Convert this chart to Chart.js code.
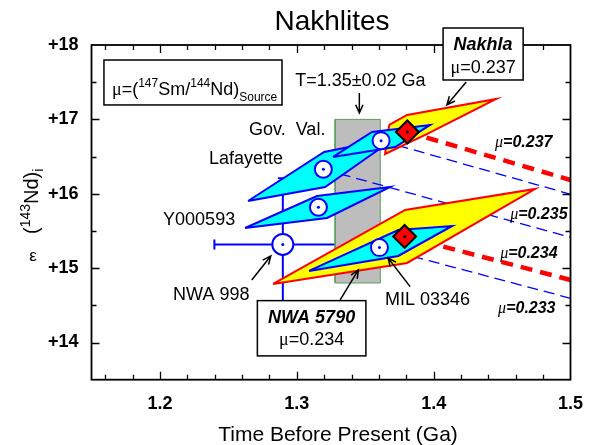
<!DOCTYPE html>
<html>
<head>
<meta charset="utf-8">
<script src="https://cdn.jsdelivr.net/npm/chart.js@4.4.1/dist/chart.umd.min.js"></script>
<style>
  html, body { margin: 0; padding: 0; background: #fff; }
  #wrap { width: 590px; height: 445px; }
</style>
</head>
<body>
<div id="wrap"><canvas id="chart" width="590" height="445"></canvas></div>
<script>
// axis ranges: age (Ga) and epsilon 143Nd
const xRange = [1.15, 1.5];
const yRange = [13.5, 18];
const xTickValues = [1.2, 1.3, 1.4, 1.5];
const yTickValues = [14, 15, 16, 17, 18];

// measured nakhlites (open circles)
const sampleNames = ["Lafayette", "Gov. Val.", "Y000593", "NWA 998", "MIL 03346"];
const sampleAge = [1.3194, 1.3616, 1.3158, 1.2898, 1.3604];
const sampleEps = [16.329, 16.714, 15.819, 15.319, 15.276];

// red diamonds
const diamondNames = ["Nakhla", "NWA 5790"];
const diamondAge = [1.3808, 1.3788];
const diamondEps = [16.831, 15.426];

// NWA 998 error bars
const nwa998AgeErr = 0.05;
const nwa998EpsErr = 0.89;

// T = 1.35 +/- 0.02 Ga band
const bandAge = [1.328, 1.361];
const bandEps = [14.8, 17.0];

// error envelopes [age, eps]
const lafayetteEnv = [[1.2644, 15.903], [1.3200, 16.562], [1.3719, 16.750], [1.3207, 16.091]];
const y000593Env = [[1.2622, 15.540], [1.3148, 15.970], [1.3682, 16.091], [1.3221, 15.675]];
const govValEnv = [[1.3265, 16.495], [1.3550, 16.831], [1.3974, 16.925], [1.3719, 16.629]];
const nakhlaEnv = [[1.3675, 16.925], [1.3806, 17.059], [1.4457, 17.274], [1.3953, 16.804], [1.3645, 16.535]];
const nwa5790Env = [[1.2827, 14.788], [1.3792, 15.782], [1.4742, 16.065], [1.3806, 15.070]];
const milEnv = [[1.3090, 14.962], [1.3741, 15.513], [1.4135, 15.567], [1.3741, 15.164]];

// source evolution lines, eps value reached at 1.5 Ga
const redLineFrom = ["Nakhla", "NWA 5790"];
const redLineEnd = [16.185, 14.841];
const blueLineFrom = ["Gov. Val.", "Lafayette", "MIL 03346"];
const blueLineEnd = [15.993, 15.415, 14.595];

// mu labels on the right
const muText = ["0.237", "0.235", "0.234", "0.233"];
const muAge = [1.4449, 1.4559, 1.4486, 1.4471];
const muEps = [16.629, 15.661, 15.137, 14.398];

// plain labels
const labelText = ["Gov.  Val.", "Lafayette", "Y000593", "NWA 998", "MIL 03346", "T=1.35\u00b10.02 Ga"];
const labelAge = [1.2651, 1.2359, 1.2023, 1.2096, 1.3645, 1.2988];
const labelEps = [16.79, 16.394, 15.581, 14.573, 14.505, 17.449];

// arrows [age, eps] from -> to
const arrowFrom = [[1.3457, 17.355], [1.4238, 17.503], [1.2671, 14.841], [1.3828, 14.751], [1.3317, 14.573]];
const arrowTo = [[1.3457, 17.086], [1.4097, 17.194], [1.2810, 15.164], [1.3667, 15.137], [1.3450, 14.976]];

const SANS = '"Liberation Sans", Arial, Helvetica, sans-serif';
const SERIF = '"Liberation Serif", "Times New Roman", serif';
const BLUE = "#0000ff", RED = "#ff0000", CYAN = "#00ffff", YELLOW = "#ffff00";

function closed(env) {
  const pts = env.map(p => ({ x: p[0], y: p[1] }));
  pts.push({ x: env[0][0], y: env[0][1] });
  return pts;
}

function envelope(env, fillColor, lineColor, order) {
  return {
    data: closed(env), showLine: true, fill: "shape", backgroundColor: fillColor,
    borderColor: lineColor, borderWidth: 2, borderJoinStyle: "miter", pointRadius: 0, order: order
  };
}

function evoLine(name, names, ages, epss, endEps, color, width, dash) {
  const i = names.indexOf(name);
  return {
    data: [{ x: ages[i], y: epss[i] }, { x: xRange[1], y: endEps }], showLine: true,
    borderColor: color, borderWidth: width, borderDash: dash, pointRadius: 0, fill: false, order: 8
  };
}

const datasets = [];

// error bars of NWA 998 (under everything)
const iNwa = sampleNames.indexOf("NWA 998");
datasets.push({
  data: [{ x: sampleAge[iNwa] - nwa998AgeErr, y: sampleEps[iNwa] }, { x: sampleAge[iNwa] + nwa998AgeErr, y: sampleEps[iNwa] }],
  showLine: true, borderColor: BLUE, borderWidth: 2, pointStyle: "line", pointRotation: 90,
  pointRadius: 5, pointBorderColor: BLUE, pointBorderWidth: 2, order: 12
});
datasets.push({
  data: [{ x: sampleAge[iNwa], y: sampleEps[iNwa] + nwa998EpsErr }, { x: sampleAge[iNwa], y: sampleEps[iNwa] - nwa998EpsErr }],
  showLine: true, borderColor: BLUE, borderWidth: 2, pointStyle: "line", pointRotation: 0,
  pointRadius: 5, pointBorderColor: BLUE, pointBorderWidth: 2, order: 12
});

// age band
datasets.push({
  data: closed([[bandAge[0], bandEps[0]], [bandAge[1], bandEps[0]], [bandAge[1], bandEps[1]], [bandAge[0], bandEps[1]]]),
  showLine: true, fill: "shape", backgroundColor: "#bdbdbd", borderColor: "#5c9e5c", borderWidth: 1,
  pointRadius: 0, order: 10
});

// dashed evolution lines
redLineFrom.forEach((n, k) => datasets.push(evoLine(n, diamondNames, diamondAge, diamondEps, redLineEnd[k], RED, 4.5, [12, 8])));
blueLineFrom.forEach((n, k) => datasets.push(evoLine(n, sampleNames, sampleAge, sampleEps, blueLineEnd[k], BLUE, 1.3, [11, 6])));

// envelopes
datasets.push(envelope(lafayetteEnv, CYAN, BLUE, 7));
datasets.push(envelope(y000593Env, CYAN, BLUE, 7));
datasets.push(envelope(nakhlaEnv, YELLOW, RED, 6));
datasets.push(envelope(nwa5790Env, YELLOW, RED, 6));
datasets.push(envelope(govValEnv, CYAN, BLUE, 5));
datasets.push(envelope(milEnv, CYAN, BLUE, 5));

// points
datasets.push({
  data: diamondAge.map((a, i) => ({ x: a, y: diamondEps[i] })), pointStyle: "rectRot", pointRadius: 11.5,
  pointBackgroundColor: RED, pointBorderColor: "#000", pointBorderWidth: 2, order: 3
});
datasets.push({
  data: diamondAge.map((a, i) => ({ x: a, y: diamondEps[i] })), pointRadius: 1.5,
  pointBackgroundColor: "#000", pointBorderWidth: 0, order: 2
});
datasets.push({
  data: sampleAge.map((a, i) => ({ x: a, y: sampleEps[i] })), pointStyle: "circle",
  pointRadius: c => sampleNames[c.dataIndex] === "NWA 998" ? 10.5 : 8.5,
  pointBackgroundColor: "#fff", pointBorderColor: BLUE, pointBorderWidth: 2, order: 3
});
datasets.push({
  data: sampleAge.map((a, i) => ({ x: a, y: sampleEps[i] })), pointRadius: 1.5,
  pointBackgroundColor: BLUE, pointBorderWidth: 0, order: 2
});

function richText(ctx, x, y, segs, align) {
  let w = 0;
  segs.forEach(s => { ctx.font = s.font; w += ctx.measureText(s.text).width; });
  let cx = align === "center" ? x - w / 2 : x;
  ctx.textAlign = "left";
  ctx.textBaseline = "alphabetic";
  segs.forEach(s => {
    ctx.font = s.font;
    ctx.fillText(s.text, cx, y + (s.dy || 0));
    cx += ctx.measureText(s.text).width;
  });
}

function arrow(ctx, x1, y1, x2, y2) {
  const ang = Math.atan2(y2 - y1, x2 - x1), L = 9, spread = 0.42;
  ctx.beginPath();
  ctx.moveTo(x1, y1);
  ctx.lineTo(x2, y2);
  ctx.moveTo(x2 - L * Math.cos(ang - spread), y2 - L * Math.sin(ang - spread));
  ctx.lineTo(x2, y2);
  ctx.lineTo(x2 - L * Math.cos(ang + spread), y2 - L * Math.sin(ang + spread));
  ctx.stroke();
}

const annotations = {
  id: "annotations",
  afterDraw(chart) {
    const { ctx, chartArea: a, scales } = chart;
    const X = v => scales.x.getPixelForValue(v);
    const Y = v => scales.y.getPixelForValue(v);
    ctx.save();
    ctx.fillStyle = "#000";
    ctx.strokeStyle = "#000";

    // frame and inward ticks
    ctx.lineWidth = 1.8;
    ctx.strokeRect(a.left, a.top, a.right - a.left, a.bottom - a.top);
    ctx.lineWidth = 1.3;
    ctx.beginPath();
    for (let k = 0; k <= 16; k++) {
      const v = 1.16 + k * 0.02;
      const major = Math.abs(v * 10 - Math.round(v * 10)) < 1e-6;
      const len = major ? 8 : 5, px = Math.round(X(v)) + 0.5;
      ctx.moveTo(px, a.bottom); ctx.lineTo(px, a.bottom - len);
      ctx.moveTo(px, a.top); ctx.lineTo(px, a.top + len);
    }
    for (let k = 0; k <= 7; k++) {
      const v = 14 + k * 0.5;
      const len = Number.isInteger(v) ? 8 : 5, py = Math.round(Y(v)) + 0.5;
      ctx.moveTo(a.left, py); ctx.lineTo(a.left + len, py);
      ctx.moveTo(a.right, py); ctx.lineTo(a.right - len, py);
    }
    ctx.stroke();

    // title and axis titles
    ctx.textAlign = "center";
    ctx.textBaseline = "alphabetic";
    ctx.font = "28px " + SANS;
    ctx.fillText("Nakhlites", 332, 30);
    ctx.font = "21px " + SANS;
    ctx.fillText("Time Before Present (Ga)", 338, 441);

    ctx.save();
    ctx.translate(38, 234);
    ctx.rotate(-Math.PI / 2);
    richText(ctx, 0, 0, [
      { text: "(", font: "20px " + SANS },
      { text: "143", font: "14px " + SANS, dy: -8 },
      { text: "Nd)", font: "20px " + SANS },
      { text: "i", font: "14px " + SANS, dy: 5 }
    ]);
    ctx.restore();
    ctx.font = "17px " + SANS;
    ctx.textAlign = "center";
    ctx.fillText("\u03b5", 33, 261);

    // legend box
    ctx.lineWidth = 1.5;
    ctx.strokeRect(X(1.1591), Y(17.798), X(1.2892) - X(1.1591), Y(17.194) - Y(17.798));
    richText(ctx, X(1.165), Y(17.328), [
      { text: "\u03bc", font: "18px " + SERIF },
      { text: "=(", font: "18px " + SANS },
      { text: "147", font: "12px " + SANS, dy: -8 },
      { text: "Sm/", font: "18px " + SANS },
      { text: "144", font: "12px " + SANS, dy: -8 },
      { text: "Nd)", font: "18px " + SANS },
      { text: "Source", font: "12px " + SANS, dy: 6 }
    ]);

    // plain labels
    labelText.forEach((t, i) => {
      ctx.font = "18px " + SANS;
      ctx.textAlign = "left";
      ctx.fillText(t, X(labelAge[i]), Y(labelEps[i]));
    });

    // mu labels
    muText.forEach((t, i) => {
      richText(ctx, X(muAge[i]), Y(muEps[i]), [
        { text: "\u03bc", font: "italic 16px " + SERIF },
        { text: "=" + t, font: "italic bold 16px " + SANS }
      ]);
    });

    // arrows
    ctx.lineWidth = 1.5;
    arrowFrom.forEach((f, i) => arrow(ctx, X(f[0]), Y(f[1]), X(arrowTo[i][0]), Y(arrowTo[i][1])));

    // name boxes
    const boxes = [
      { name: "Nakhla", mu: "0.237", x0: 1.4069, x1: 1.4654, y0: 17.5296, y1: 18.2285, yName: 17.933, yMu: 17.624 },
      { name: "NWA 5790", mu: "0.234", x0: 1.2712, x1: 1.3505, y0: 13.82, y1: 14.563, yName: 14.2675, yMu: 13.968 }
    ];
    boxes.forEach(b => {
      const l = X(b.x0), r = X(b.x1), t = Y(b.y1), btm = Y(b.y0);
      ctx.fillStyle = "#fff";
      ctx.fillRect(l, t, r - l, btm - t);
      ctx.fillStyle = "#000";
      ctx.lineWidth = 1.5;
      ctx.strokeRect(l, t, r - l, btm - t);
      ctx.font = "italic bold 18px " + SANS;
      ctx.textAlign = "center";
      ctx.fillText(b.name, (l + r) / 2, Y(b.yName));
      richText(ctx, (l + r) / 2, Y(b.yMu), [
        { text: "\u03bc", font: "18px " + SERIF },
        { text: "=" + b.mu, font: "18px " + SANS }
      ], "center");
    });
    ctx.restore();
  }
};

new Chart(document.getElementById("chart"), {
  type: "scatter",
  data: { datasets: datasets },
  options: {
    responsive: false,
    animation: false,
    layout: { padding: { top: 45, right: 19.5, left: 0, bottom: 0 } },
    plugins: { legend: { display: false }, tooltip: { enabled: false } },
    scales: {
      x: {
        type: "linear", min: xRange[0], max: xRange[1],
        grid: { display: false }, border: { display: false },
        afterBuildTicks: s => { s.ticks = xTickValues.map(v => ({ value: v })); },
        afterFit: s => { s.height = 65.3; },
        ticks: {
          color: "#000", padding: 6, maxRotation: 0, autoSkip: false,
          font: { family: SANS, size: 18, weight: "bold" },
          callback: v => v.toFixed(1)
        }
      },
      y: {
        type: "linear", min: yRange[0], max: yRange[1],
        grid: { display: false }, border: { display: false },
        afterBuildTicks: s => { s.ticks = yTickValues.map(v => ({ value: v })); },
        afterFit: s => { s.width = 91.5; },
        ticks: {
          color: "#000", padding: 5,
          font: { family: SANS, size: 18, weight: "bold" },
          callback: v => "+" + v
        }
      }
    }
  },
  plugins: [annotations]
});
</script>
</body>
</html>
